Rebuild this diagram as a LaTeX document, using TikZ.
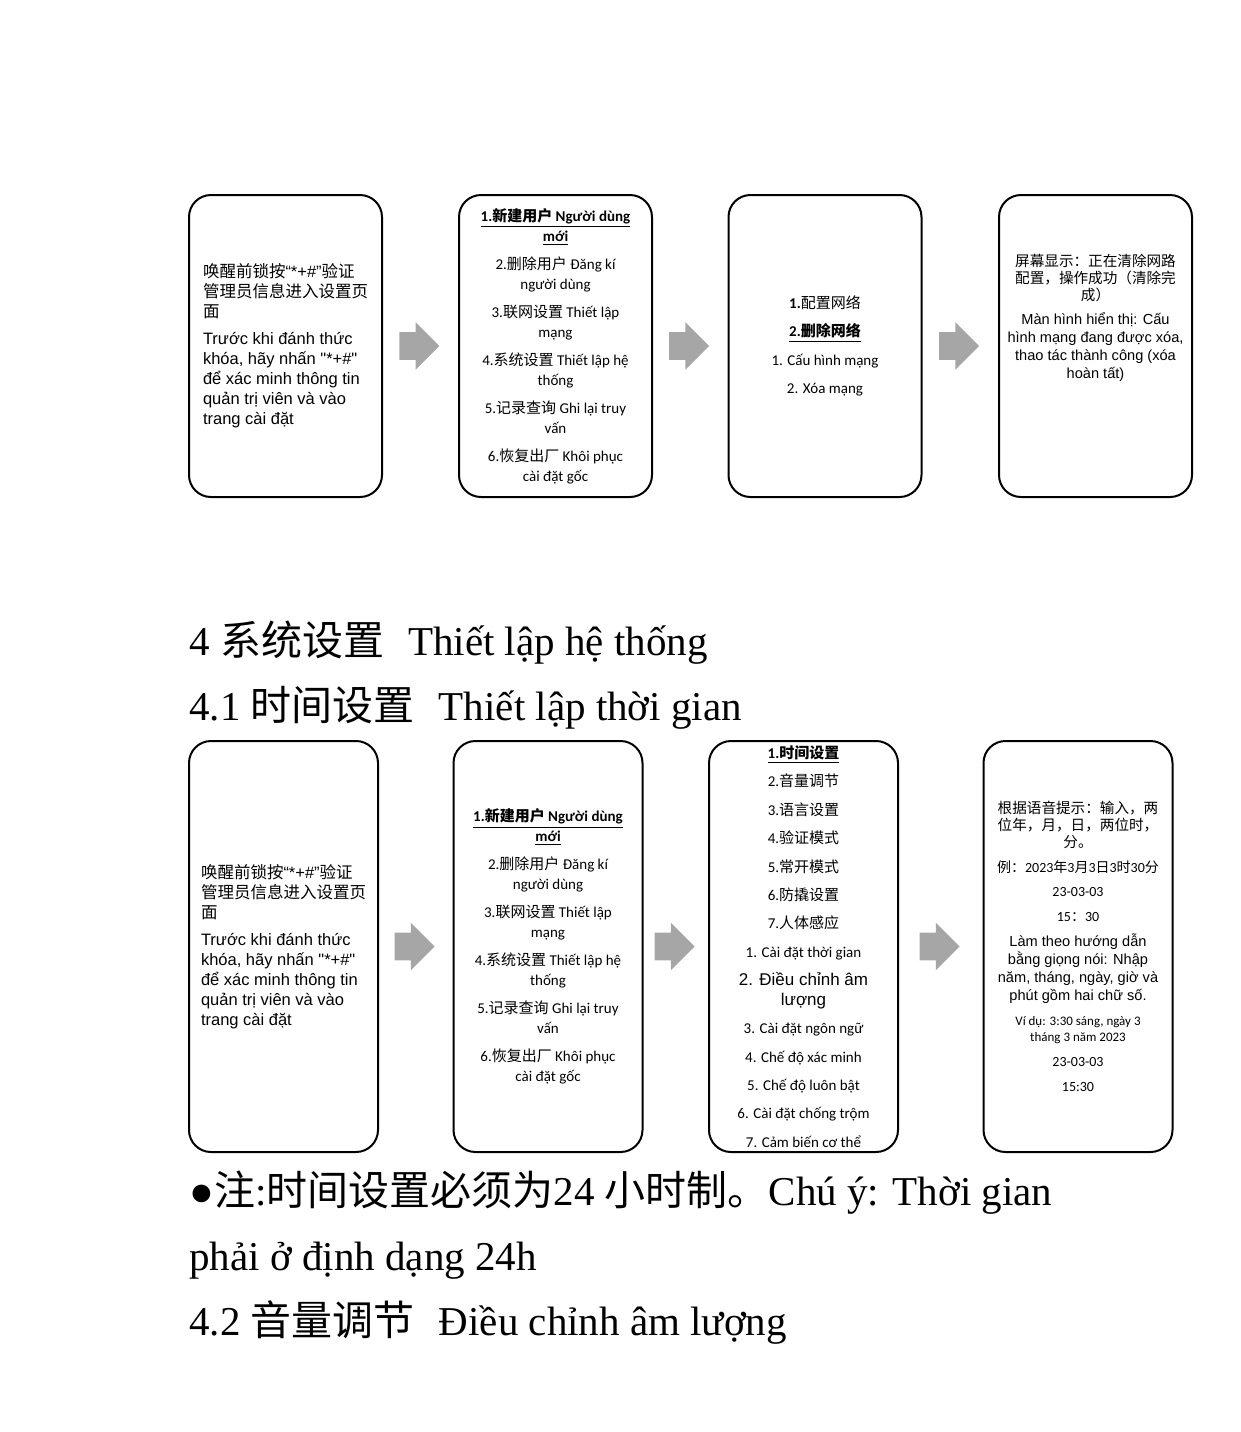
\documentclass[tikz,border=0pt]{standalone}
\usepackage{fontspec}
\setmainfont{Liberation Serif}
\newfontfamily\cjkfont{Noto Sans CJK SC}
\newfontfamily\calfont{Carlito}
\newfontfamily\arifont{Liberation Sans}
\usetikzlibrary{shapes.arrows, calc}
\newcommand{\zh}[1]{{\cjkfont #1}}

\begin{document}
\begin{tikzpicture}[x=0.5pt, y=-0.5pt,
    panel/.style={draw, line width=1pt, rounded corners=11pt, inner sep=0pt},
    toprow/.style={panel, minimum width=96.5pt, minimum height=151pt},
    botrow/.style={panel, minimum width=94.5pt, minimum height=205.5pt},
    bigarrow/.style={single arrow, fill=black!35, inner xsep=0pt, inner ysep=6.75pt, minimum height=20pt, single arrow head extend=5pt, xshift=-4pt},
    heading/.style={anchor=base west, inner sep=0pt, font=\fontsize{20.5}{24}\selectfont}]
\useasboundingbox (0,0) rectangle (1241,1432);

\node[toprow, align=left, font=\arifont\fontsize{8.25}{10}\selectfont] (b1) at (285.5,346) {\zh{唤醒前锁按}“*+\#”\zh{验证}\\\zh{管理员信息进入设置页}\\\zh{面}\\[3.5pt]
    Trước khi đánh thức\\khóa, hãy nhấn "*+\#"\\để xác minh thông tin\\quản trị viên và vào\\trang cài đặt};
\node[toprow, align=center, font=\calfont\fontsize{7.5}{10}\selectfont] (b2) at (555.5,346) {\textbf{\underline{1.\zh{新建用户} Người dùng}}\\\textbf{\underline{mới}}\\[4pt]
    2.\zh{删除用户} Đăng kí\\người dùng\\[4pt]
    3.\zh{联网设置} Thiết lập\\mạng\\[4pt]
    4.\zh{系统设置} Thiết lập hệ\\thống\\[4pt]
    5.\zh{记录查询} Ghi lại truy\\vấn\\[4pt]
    6.\zh{恢复出厂} Khôi phục\\cài đặt gốc};
\node[toprow, align=center, font=\calfont\fontsize{7.5}{10}\selectfont] (b3) at (825,346) {\textbf{1.}\zh{配置网络}\\[4.25pt]\textbf{\underline{2.\zh{删除网络}}}\\[4.25pt]1. Cấu hình mạng\\[4.25pt]2. Xóa mạng};
\node[toprow] (b4) at (1095.5,346) {};
\node[align=center, inner sep=0pt, font=\arifont\fontsize{7.3}{8.5}\selectfont] (b4txt) at ($(b4.center)+(0,-28)$) {\zh{屏幕显示：正在清除网路}\\\zh{配置，操作成功（清除完}\\\zh{成）}\\[3.5pt]
    Màn hình hiển thị: Cấu\\[0.5pt]hình mạng đang được xóa,\\[0.5pt]thao tác thành công (xóa\\[0.5pt]hoàn tất)};

\node[bigarrow] (a1) at ($(b1.east)!0.5!(b2.west)$) {};
\node[bigarrow] (a2) at ($(b2.east)!0.5!(b3.west)$) {};
\node[bigarrow] (a3) at ($(b3.east)!0.5!(b4.west)$) {};

\node[heading] (h1) at (189,655) {4 \zh{系统设置}\hspace{12pt}Thiết lập hệ thống};
\node[heading] (h2) at (189,720) {4.1 \zh{时间设置}\hspace{12pt}Thiết lập thời gian};

\node[botrow, align=left, font=\arifont\fontsize{8.25}{10}\selectfont] (c1) at (283.5,946.5) {\zh{唤醒前锁按}“*+\#”\zh{验证}\\\zh{管理员信息进入设置页}\\\zh{面}\\[3.5pt]
    Trước khi đánh thức\\khóa, hãy nhấn "*+\#"\\để xác minh thông tin\\quản trị viên và vào\\trang cài đặt};
\node[botrow, align=center, font=\calfont\fontsize{7.5}{10}\selectfont] (c2) at (548,946.5) {\textbf{\underline{1.\zh{新建用户} Người dùng}}\\\textbf{\underline{mới}}\\[4pt]
    2.\zh{删除用户} Đăng kí\\người dùng\\[4pt]
    3.\zh{联网设置} Thiết lập\\mạng\\[4pt]
    4.\zh{系统设置} Thiết lập hệ\\thống\\[4pt]
    5.\zh{记录查询} Ghi lại truy\\vấn\\[4pt]
    6.\zh{恢复出厂} Khôi phục\\cài đặt gốc};
\node[botrow, align=center, font=\calfont\fontsize{7.5}{10}\selectfont] (c3) at (803.5,946.5) {\textbf{\underline{1.\zh{时间设置}}}\\[4.2pt]
    2.\zh{音量调节}\\[4.2pt]3.\zh{语言设置}\\[4.2pt]4.\zh{验证模式}\\[4.2pt]5.\zh{常开模式}\\[4.2pt]6.\zh{防撬设置}\\[4.2pt]7.\zh{人体感应}\\[4.2pt]
    1. Cài đặt thời gian\\[4.2pt]
    {\arifont\fontsize{8.5}{10}\selectfont 2. Điều chỉnh âm}\\{\arifont\fontsize{8.5}{10}\selectfont lượng}\\[4pt]
    3. Cài đặt ngôn ngữ\\[4.2pt]4. Chế độ xác minh\\[4.2pt]5. Chế độ luôn bật\\[4.2pt]6. Cài đặt chống trộm\\[4.2pt]7. Cảm biến cơ thể};
\node[botrow, align=center, font=\calfont\fontsize{7}{8.5}\selectfont] (c4) at (1078,946.5) {{\fontsize{7.3}{8.5}\selectfont\zh{根据语音提示：输入，两}}\\{\fontsize{7.3}{8.5}\selectfont\zh{位年，月，日，两位时，}}\\{\fontsize{7.3}{8.5}\selectfont\zh{分。}}\\[4pt]
    \zh{例：}2023\zh{年}3\zh{月}3\zh{日}3\zh{时}30\zh{分}\\[3.5pt]
    23-03-03\\[4pt]15\zh{：}30\\[4pt]
    {\arifont\fontsize{7.3}{9}\selectfont Làm theo hướng dẫn}\\[0.5pt]{\arifont\fontsize{7.3}{9}\selectfont bằng giọng nói: Nhập}\\[0.5pt]{\arifont\fontsize{7.3}{9}\selectfont năm, tháng, ngày, giờ và}\\[0.5pt]{\arifont\fontsize{7.3}{9}\selectfont phút gồm hai chữ số.}\\[4pt]
    {\fontsize{6.5}{8}\selectfont Ví dụ: 3:30 sáng, ngày 3}\\[-0.5pt]{\fontsize{6.5}{8}\selectfont tháng 3 năm 2023}\\[4pt]
    23-03-03\\[4pt]15:30};

\node[bigarrow] (d1) at ($(c1.east)!0.5!(c2.west)$) {};
\node[bigarrow] (d2) at ($(c2.east)!0.5!(c3.west)$) {};
\node[bigarrow] (d3) at ($(c3.east)!0.5!(c4.west)$) {};

\node[heading] (n1) at (189,1205) {●\zh{注}:\zh{时间设置必须为}24 \zh{小时制。}Chú ý: Thời gian};
\node[heading] (n2) at (189,1270) {phải ở định dạng 24h};
\node[heading] (h3) at (189,1335) {4.2 \zh{音量调节}\hspace{12pt}Điều chỉnh âm lượng};
\end{tikzpicture}
\end{document}
